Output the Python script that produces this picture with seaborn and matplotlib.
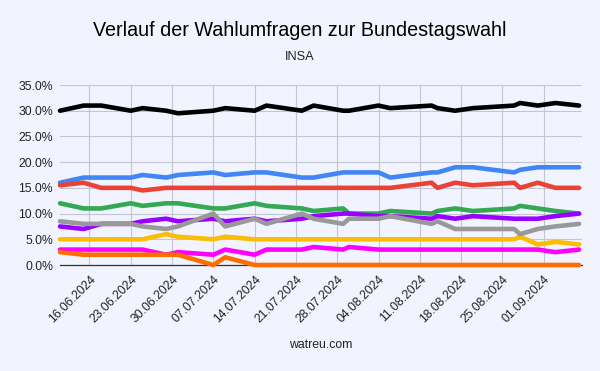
import pandas as pd
import matplotlib
matplotlib.use("Agg")
import matplotlib.pyplot as plt
import matplotlib.dates as mdates
from matplotlib.ticker import FuncFormatter
import seaborn as sns

# Umfragedaten INSA (Werte in Prozent)
dates = ["11.06.2024", "15.06.2024", "18.06.2024", "23.06.2024", "25.06.2024",
         "29.06.2024", "01.07.2024", "07.07.2024", "09.07.2024", "14.07.2024",
         "16.07.2024", "22.07.2024", "24.07.2024", "29.07.2024", "30.07.2024",
         "04.08.2024", "06.08.2024", "13.08.2024", "14.08.2024", "17.08.2024",
         "20.08.2024", "27.08.2024", "28.08.2024", "31.08.2024", "03.09.2024",
         "07.09.2024"]

cdu = [30, 31, 31, 30, 30.5, 30, 29.5, 30, 30.5, 30, 31, 30, 31, 30, 30,
       31, 30.5, 31, 30.5, 30, 30.5, 31, 31.5, 31, 31.5, 31]
afd = [16, 17, 17, 17, 17.5, 17, 17.5, 18, 17.5, 18, 18, 17, 17, 18, 18,
       18, 17, 18, 18, 19, 19, 18, 18.5, 19, 19, 19]
spd = [15.5, 16, 15, 15, 14.5, 15, 15, 15, 15, 15, 15, 15, 15, 15, 15,
       15, 15, 16, 15, 16, 15.5, 16, 15, 16, 15, 15]
gruene = [12, 11, 11, 12, 11.5, 12, 12, 11, 11, 12, 11.5, 11, 10.5, 11, 10,
          10, 10.5, 10, 10.5, 11, 10.5, 11, 11.5, 11, 10.5, 10]
bsw = [7.5, 7, 8, 8, 8.5, 9, 8.5, 9, 8.5, 9, 8.5, 9, 9.5, 10, 10,
       9.5, 9.5, 9, 9.5, 9, 9.5, 9, 9, 9, 9.5, 10]
fdp = [5, 5, 5, 5, 5, 6, 5.5, 5, 5.5, 5, 5, 5, 5, 5, 5,
       5, 5, 5, 5, 5, 5, 5, 5.5, 4, 4.5, 4]
linke = [3, 3, 3, 3, 3, 2, 2.5, 2, 3, 2, 3, 3, 3.5, 3, 3.5,
         3, 3, 3, 3, 3, 3, 3, 3, 3, 2.5, 3]
fw = [2.5, 2, 2, 2, 2, 2, 2, 0, 1.5, 0, 0, 0, 0, 0, 0,
      0, 0, 0, 0, 0, 0, 0, 0, 0, 0, 0]
sonstige = [8.5, 8, 8, 8, 7.5, 7, 7.5, 10, 7.5, 9, 8, 10, 9, 8, 9,
            9, 9.5, 8, 8.5, 7, 7, 7, 6, 7, 7.5, 8]

parties = ["CDU/CSU", "AfD", "SPD", "Grüne", "BSW", "FDP", "Linke", "Freie Wähler", "Sonstige"]
values = [cdu, afd, spd, gruene, bsw, fdp, linke, fw, sonstige]
colors = ["#000000", "#4285F4", "#EA4335", "#34A853", "#9900FF",
          "#FBBC04", "#FF00FF", "#FF6D01", "#999999"]

tick_dates = ["16.06.2024", "23.06.2024", "30.06.2024", "07.07.2024", "14.07.2024",
              "21.07.2024", "28.07.2024", "04.08.2024", "11.08.2024", "18.08.2024",
              "25.08.2024", "01.09.2024"]

rows = []
for party, vals in zip(parties, values):
    for d, v in zip(dates, vals):
        rows.append({"Datum": pd.to_datetime(d, format="%d.%m.%Y"), "Partei": party, "Wert": v})
df = pd.DataFrame(rows)

bg = "#F1F4FE"
sns.set_theme(style="white")
plt.rcParams["font.family"] = ["Liberation Sans", "DejaVu Sans"]

fig = plt.figure(figsize=(6, 3.71), dpi=100, facecolor=bg)
ax = fig.add_axes([60 / 600, 1 - 265 / 371, 522 / 600, 180 / 371])
ax.set_facecolor(bg)

sns.lineplot(data=df, x="Datum", y="Wert", hue="Partei", hue_order=parties,
             palette=dict(zip(parties, colors)), linewidth=3.3, legend=False,
             ax=ax, zorder=3)
for line in ax.lines:
    line.set_solid_joinstyle("round")
    line.set_clip_on(False)

start = pd.to_datetime(dates[0], format="%d.%m.%Y")
end = pd.to_datetime(dates[-1], format="%d.%m.%Y") + pd.Timedelta(hours=12)
ax.set_xlim(start, end)
ax.set_ylim(0, 35)
ax.set_yticks(range(0, 36, 5))
ax.yaxis.set_major_formatter(FuncFormatter(lambda v, p: f"{v:.1f}%"))
ax.set_xticks(pd.to_datetime(tick_dates, format="%d.%m.%Y"))
ax.xaxis.set_major_formatter(mdates.DateFormatter("%d.%m.%Y"))

ax.grid(True, color="#C3C5D2", linewidth=0.8, zorder=0)
for s in ["top", "right", "left"]:
    ax.spines[s].set_visible(False)
ax.spines["bottom"].set_color("#333333")
ax.spines["bottom"].set_linewidth(0.9)
ax.tick_params(axis="both", length=0, labelsize=8.8, colors="#222222")
ax.tick_params(axis="y", pad=5)
ax.tick_params(axis="x", pad=6)
plt.setp(ax.get_xticklabels(), rotation=45, ha="right", rotation_mode="anchor")
ax.set_xlabel("")
ax.set_ylabel("")

fig.text(0.5, 1 - 30 / 371, "Verlauf der Wahlumfragen zur Bundestagswahl",
         ha="center", va="center", fontsize=14.2, color="#000000")
fig.text(0.5, 1 - 57 / 371, "INSA", ha="center", va="center", fontsize=9.2, color="#222222")
fig.text(321 / 600, 1 - 345 / 371, "watreu.com", ha="center", va="center",
         fontsize=8.8, color="#222222")

fig.savefig("out.png", dpi=100, facecolor=bg)
